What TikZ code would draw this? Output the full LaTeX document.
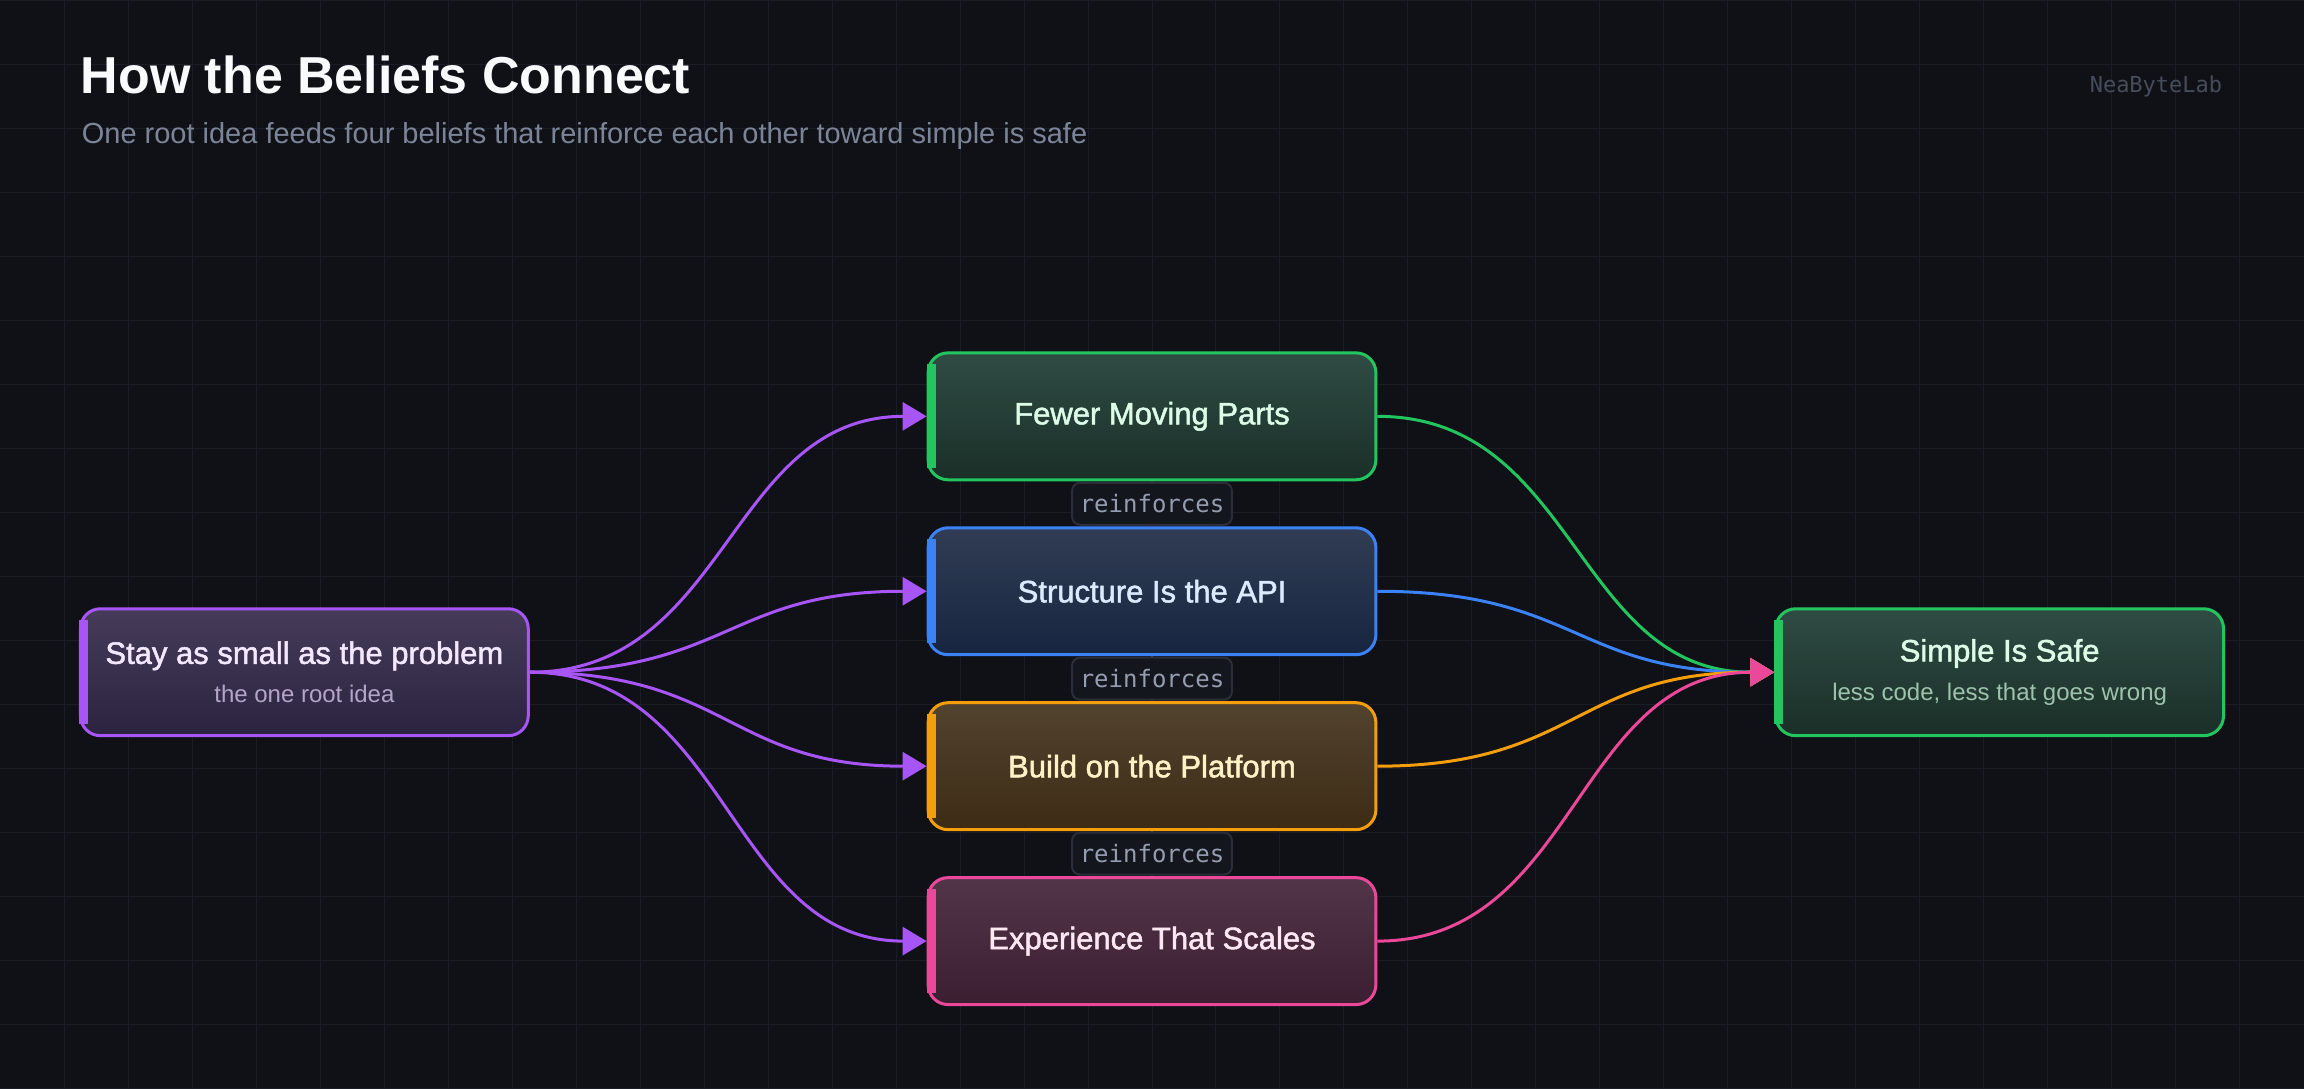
\documentclass[tikz,border=0pt]{standalone}
\usepackage{fontspec}
\setmainfont{Liberation Sans}
\setmonofont{DejaVu Sans Mono}
\newfontfamily\medfont[FakeBold=1.6]{Liberation Sans}
\usetikzlibrary{arrows.meta,positioning,calc}
\usepackage{xcolor}
\definecolor{bgInk}{HTML}{0F1117}
\definecolor{bgGrid}{HTML}{1A1D26}
\definecolor{hdWhite}{HTML}{F8FAFC}
\definecolor{hdGray}{HTML}{7C8598}
\definecolor{wmGray}{HTML}{464C5A}
\definecolor{rfFill}{HTML}{14161D}
\definecolor{rfLine}{HTML}{2B2E38}
\definecolor{rfText}{HTML}{959DB0}
\definecolor{rfTip}{HTML}{4B5060}
\definecolor{blPurple}{HTML}{A855F7}
\definecolor{blGreen}{HTML}{22C55E}
\definecolor{blBlue}{HTML}{3B82F6}
\definecolor{blOrange}{HTML}{F59E0B}
\definecolor{blPink}{HTML}{EC4899}
\definecolor{purTop}{HTML}{463C5A}
\definecolor{purBot}{HTML}{2B2340}
\definecolor{grnTop}{HTML}{2F4C44}
\definecolor{grnBot}{HTML}{1A2F28}
\definecolor{bluTop}{HTML}{303D54}
\definecolor{bluBot}{HTML}{172540}
\definecolor{orgTop}{HTML}{52432F}
\definecolor{orgBot}{HTML}{3D2B14}
\definecolor{pnkTop}{HTML}{523548}
\definecolor{pnkBot}{HTML}{3B1E30}
\definecolor{purTxt}{HTML}{F3E8FF}
\definecolor{grnTxt}{HTML}{DCFCE7}
\definecolor{bluTxt}{HTML}{DBEAFE}
\definecolor{orgTxt}{HTML}{FEF3C7}
\definecolor{pnkTxt}{HTML}{FCE7F3}
\definecolor{purSub}{HTML}{B4A5C8}
\definecolor{grnSub}{HTML}{9EC3AD}
\newcommand{\blfsub}[2]{\\[1.5pt]{\fontsize{12}{14}\selectfont\color{#1}#2}}
\tikzset{
  blf/.style={rounded corners=10pt, line width=1.5pt, minimum width=224pt, minimum height=63.5pt, inner sep=0pt, align=center, font=\fontsize{15.5}{18}\selectfont},
  blfP/.style={blf, draw=blPurple, top color=purTop, bottom color=purBot, text=purTxt},
  blfG/.style={blf, draw=blGreen, top color=grnTop, bottom color=grnBot, text=grnTxt},
  blfB/.style={blf, draw=blBlue, top color=bluTop, bottom color=bluBot, text=bluTxt},
  blfO/.style={blf, draw=blOrange, top color=orgTop, bottom color=orgBot, text=orgTxt},
  blfK/.style={blf, draw=blPink, top color=pnkTop, bottom color=pnkBot, text=pnkTxt},
  arr/.style={-{Triangle[length=12pt, width=14pt]}, line width=1.5pt},
  reinf/.style={-{Triangle[length=3pt, width=5pt]}, line width=1pt, draw=rfTip},
  rlbl/.style={fill=rfFill, draw=rfLine, line width=1pt, rounded corners=4pt, minimum width=80pt, minimum height=21pt, inner sep=0pt, text=rfText, font=\ttfamily\fontsize{12}{14}\selectfont},
}

\begin{document}
\begin{tikzpicture}[x=0.5pt, y=-0.5pt]
  % backdrop
  \fill[bgInk] (0,0) rectangle (2304,1088);
  \foreach \gx in {64,128,...,2240}
    \draw[bgGrid, line width=0.5pt] (\gx,0) -- (\gx,1088);
  \foreach \gy in {0,64,...,1088}
    \draw[bgGrid, line width=0.5pt] (0,\gy) -- (2304,\gy);
  \useasboundingbox (0,0) rectangle (2304,1088);

  % heading
  \node[anchor=base west, inner sep=0pt, text=hdWhite, font=\bfseries\fontsize{26}{30}\selectfont] (title) at (80,93) {How the Beliefs Connect};
  \node[anchor=base west, inner sep=0pt, text=hdGray, font=\fontsize{14.5}{17}\selectfont] (subtitle) at (81,143) {One root idea feeds four beliefs that reinforce each other toward simple is safe};
  \node[anchor=base east, inner sep=0pt, text=wmGray, font=\ttfamily\fontsize{11}{13}\selectfont] (mark) at (2223,92) {NeaByteLab};

  % beliefs
  \node[blfP] (root) at (304,672) {{\medfont Stay as small as the problem}\blfsub{purSub}{the one root idea}};
  \node[blfG] (fewer) at (1152,416) {\medfont Fewer Moving Parts};
  \node[blfB, below=22.5pt of fewer] (struct) {\medfont Structure Is the API};
  \node[blfO, below=22.5pt of struct] (build) {\medfont Build on the Platform};
  \node[blfK, below=22.5pt of build] (exper) {\medfont Experience That Scales};
  \node[blfG] (safe) at (2000,672) {{\medfont Simple Is Safe}\blfsub{grnSub}{less code, less that goes wrong}};

  % left accent bars
  \foreach \n/\c in {root/blPurple, fewer/blGreen, struct/blBlue, build/blOrange, exper/blPink, safe/blGreen}
    \fill[\c] ($(\n.north west)+(0,13)$) rectangle ($(\n.south west)+(9,-13)$);

  % root feeds the four beliefs
  \foreach \t in {fewer, struct, build, exper}
    \draw[arr, blPurple] (root.east) .. controls +(199,0) and +(-199,0) .. (\t.west);

  % beliefs lead to simple is safe
  \draw[arr, blGreen] (fewer.east) .. controls +(199,0) and +(-199,0) .. (safe.west);
  \draw[arr, blBlue] (struct.east) .. controls +(199,0) and +(-199,0) .. (safe.west);
  \draw[arr, blOrange] (build.east) .. controls +(199,0) and +(-199,0) .. (safe.west);
  \draw[arr, blPink] (exper.east) .. controls +(199,0) and +(-199,0) .. (safe.west);

  % reinforcing chain
  \draw[reinf] (fewer) -- node[rlbl] (rf1) {reinforces} (struct);
  \draw[reinf] (struct) -- node[rlbl] (rf2) {reinforces} (build);
  \draw[reinf] (build) -- node[rlbl] (rf3) {reinforces} (exper);
\end{tikzpicture}
\end{document}
